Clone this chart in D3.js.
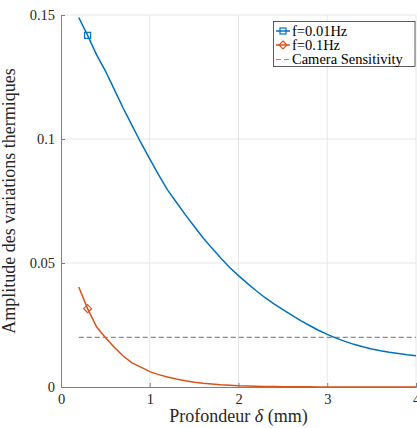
<!DOCTYPE html>
<html><head><meta charset="utf-8">
<script src="https://cdn.jsdelivr.net/npm/d3@7"></script>
<style>body{margin:0;background:#fff}svg{display:block}text{font-family:"Liberation Serif","DejaVu Serif",serif}</style>
</head><body><div id="chart"></div>
<script>
const depth = [0.2,0.3,0.4,0.5,0.6,0.7,0.8,0.9,1.0,1.1,1.2,1.3,1.4,1.5,1.6,1.7,1.8,1.9,2.0,2.1,2.2,2.3,2.4,2.5,2.6,2.7,2.8,2.9,3.0,3.1,3.2,3.3,3.4,3.5,3.6,3.7,3.8,3.9,4.0];
const ampLow = [0.149,0.1418,0.134,0.1275,0.120,0.1125,0.1055,0.0985,0.092,0.0855,0.0795,0.0745,0.0695,0.0648,0.0602,0.056,0.052,0.0482,0.0449,0.0418,0.0388,0.036,0.0335,0.0312,0.029,0.0268,0.0248,0.0229,0.0212,0.0197,0.0184,0.0172,0.0162,0.0153,0.0146,0.014,0.0135,0.013,0.0126];
const ampHigh = [0.0403,0.0316,0.0243,0.0200,0.0160,0.0125,0.0097,0.0080,0.0062,0.0050,0.0040,0.0032,0.0025,0.0019,0.0015,0.0012,0.0009,0.0007,0.0005,0.0004,0.0003,0.00025,0.0002,0.00015,0.0001,0.00008,0.00006,0.00005,0.00004,0.00003,0.00002,0.00002,0.00001,0.00001,0.00001,0.00001,0,0,0];
const sensitivity = 0.02;
const xTicks = [0,1,2,3,4];
const yTicks = [0,0.05,0.1,0.15];
const yTickLabels = ["0","0.05","0.1","0.15"];
const seriesNames = ["f=0.01Hz","f=0.1Hz","Camera Sensitivity"];
const markerIndex = 1;

const W=417,H=428;
const m={l:61,t:15,r:1,b:41};
const svg=d3.select("#chart").append("svg").attr("width",W).attr("height",H);
const x=d3.scaleLinear().domain([0,4]).range([m.l,W-m.r]);
const y=d3.scaleLinear().domain([0,0.15]).range([H-m.b,m.t]);

// grid
const g=svg.append("g");
g.selectAll(".vg").data(xTicks.slice(1)).join("line").attr("x1",d=>x(d)).attr("x2",d=>x(d)).attr("y1",y(0)).attr("y2",y(0.15)).attr("stroke","#e6e6e6").attr("stroke-width",1);
g.selectAll(".hg").data(yTicks.slice(1)).join("line").attr("y1",d=>y(d)).attr("y2",d=>y(d)).attr("x1",x(0)).attr("x2",x(4)).attr("stroke","#e6e6e6").attr("stroke-width",1);

// axes
const axColor="#808080";
const xa=svg.append("g").attr("transform",`translate(0,${y(0)})`).call(d3.axisBottom(x).tickValues(xTicks).tickSize(-4).tickPadding(7).tickFormat(d3.format("d")));
const ya=svg.append("g").attr("transform",`translate(${x(0)},0)`).call(d3.axisLeft(y).tickValues(yTicks).tickSize(-4).tickPadding(6).tickFormat((d,i)=>yTickLabels[i]));
[xa,ya].forEach(a=>{a.select(".domain").attr("stroke",axColor);a.selectAll(".tick line").attr("stroke",axColor);a.selectAll("text").attr("fill","#262626").attr("font-size",14.5).attr("font-family","Liberation Serif");});

// dashed sensitivity
svg.append("line").attr("x1",x(depth[0])).attr("x2",x(4)).attr("y1",y(sensitivity)).attr("y2",y(sensitivity)).attr("stroke","#8c8c8c").attr("stroke-width",1.2).attr("stroke-dasharray","5,3");

const line=d3.line().x((d,i)=>x(depth[i])).y(d=>y(d));
svg.append("path").datum(ampLow).attr("d",line).attr("fill","none").attr("stroke","#0072BD").attr("stroke-width",1.5);
svg.append("path").datum(ampHigh).attr("d",line).attr("fill","none").attr("stroke","#D95319").attr("stroke-width",1.5);

// markers
svg.append("rect").attr("x",x(depth[markerIndex])-3).attr("y",y(ampLow[markerIndex])-3).attr("width",6).attr("height",6).attr("fill","none").attr("stroke","#0072BD").attr("stroke-width",1.2);
const dia=(cx,cy,r)=>`M${cx},${cy-r}L${cx+r},${cy}L${cx},${cy+r}L${cx-r},${cy}Z`;
svg.append("path").attr("d",dia(x(depth[markerIndex]),y(ampHigh[markerIndex]),4)).attr("fill","none").attr("stroke","#D95319").attr("stroke-width",1.2);

// labels
svg.append("text").attr("x",(x(0)+x(4))/2).attr("y",422).attr("text-anchor","middle").attr("font-size",18).attr("fill","#262626").html('Profondeur <tspan font-style="italic">δ</tspan> (mm)');
svg.append("text").attr("transform",`translate(15,${(y(0)+y(0.15))/2}) rotate(-90)`).attr("text-anchor","middle").attr("font-size",18).attr("fill","#262626").text("Amplitude des variations thermiques");

// legend
const lg=svg.append("g");
lg.append("rect").attr("x",273.5).attr("y",21.5).attr("width",141.5).attr("height",45).attr("fill","#fff").attr("stroke","#333").attr("stroke-width",0.8);
const ly=[31,45,59.5];
const lc=["#0072BD","#D95319","#8c8c8c"];
seriesNames.forEach((n,i)=>{
  const l=lg.append("line").attr("x1",276).attr("x2",290).attr("y1",ly[i]).attr("y2",ly[i]).attr("stroke",lc[i]).attr("stroke-width",i<2?1.5:1.2);
  if(i==2) l.attr("stroke-dasharray","5,3");
  lg.append("text").attr("x",292).attr("y",ly[i]+4.5).attr("font-size",14.5).attr("fill","#000").text(n);
});
lg.append("rect").attr("x",280).attr("y",ly[0]-3).attr("width",6).attr("height",6).attr("fill","none").attr("stroke","#0072BD").attr("stroke-width",1.2);
lg.append("path").attr("d",dia(283,ly[1],4)).attr("fill","none").attr("stroke","#D95319").attr("stroke-width",1.2);
</script></body></html>
